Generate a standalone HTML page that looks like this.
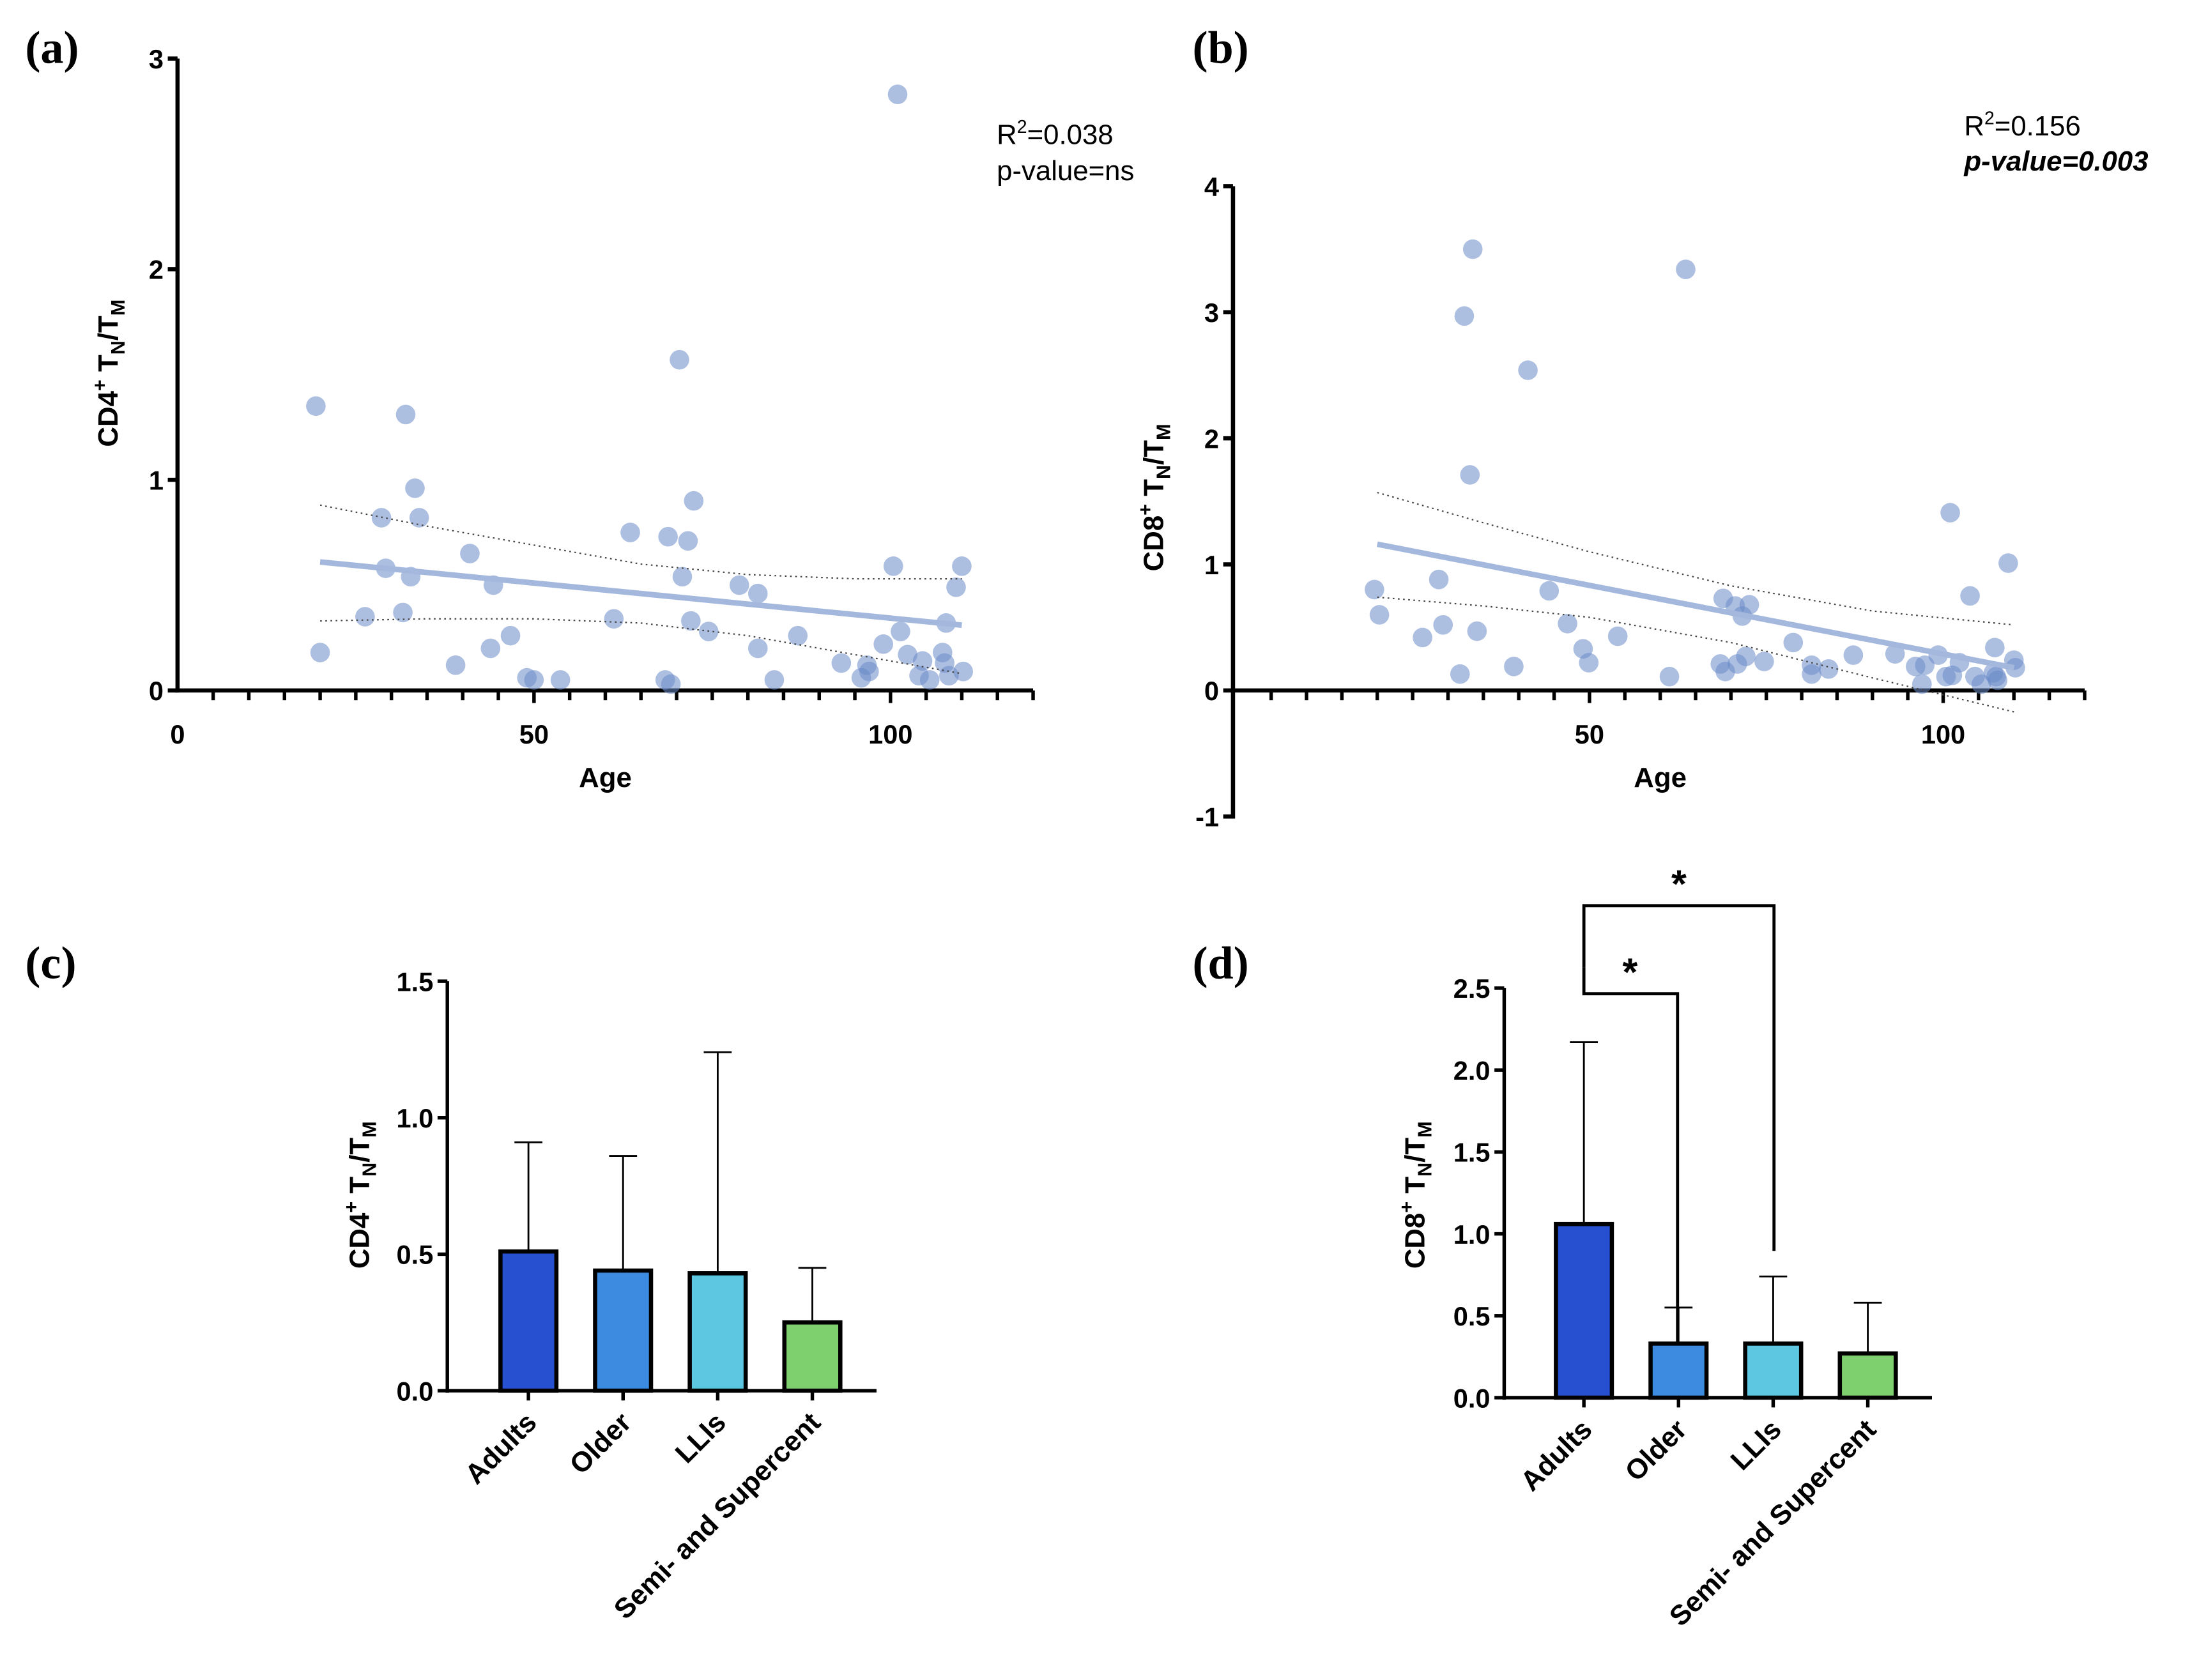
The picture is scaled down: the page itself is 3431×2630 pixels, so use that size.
<!DOCTYPE html>
<html><head><meta charset="utf-8"><style>
html,body{margin:0;padding:0;background:#fff}
svg{display:block}
text{font-family:"Liberation Sans",sans-serif}
.tk{font-weight:bold;font-size:19px}
.ttl{font-weight:bold;font-size:20px}
.pl{font-family:"Liberation Serif",serif;font-weight:bold;font-size:33px}
</style></head><body>
<svg id="fig" width="3431" height="2630" viewBox="0 0 1568 1202" preserveAspectRatio="none" xmlns="http://www.w3.org/2000/svg">
<text class="pl" x="18" y="45">(a)</text>
<text class="pl" x="853" y="45">(b)</text>
<text class="pl" x="18" y="700">(c)</text>
<text class="pl" x="853" y="700">(d)</text>
<text x="713" y="103" font-size="20">R<tspan dy="-8" font-size="13">2</tspan><tspan dy="8">=0.038</tspan></text>
<text x="713" y="129" font-size="20">p-value=ns</text>
<text x="1405" y="97" font-size="20">R<tspan dy="-8" font-size="13">2</tspan><tspan dy="8">=0.156</tspan></text>
<text x="1405" y="122" font-size="20" font-weight="bold" font-style="italic">p-value=0.003</text>
<g id="pa"></g><g id="pb"></g><g id="pc"></g><g id="pd"></g>
</svg>
<script>
const agesA=[19.4,20,26.3,28.6,29.2,31.6,32,32.7,33.3,33.9,39,41,43.9,44.3,46.7,49,50,53.7,61.2,63.5,68.4,68.8,69.2,70.4,70.8,71.6,72,72.4,74.5,78.8,81.4,81.4,83.7,87,93.1,95.9,96.7,97,99,100.4,101,101.4,102.4,104,104.5,105.5,107.3,107.6,107.8,108.2,109.2,110,110.2];
const valsA=[1.35,0.18,0.35,0.82,0.58,0.37,1.31,0.54,0.96,0.82,0.12,0.65,0.20,0.50,0.26,0.06,0.05,0.05,0.34,0.75,0.05,0.73,0.03,1.57,0.54,0.71,0.33,0.90,0.28,0.50,0.46,0.20,0.05,0.26,0.13,0.06,0.12,0.09,0.22,0.59,2.83,0.28,0.17,0.07,0.14,0.05,0.18,0.13,0.32,0.07,0.49,0.59,0.09];
const fitA=[[20,0.61],[110,0.31]];
const ciUpA=[[20,0.88],[35,0.78],[50,0.69],[65,0.6],[80,0.55],[95,0.53],[110,0.53]];
const ciLoA=[[20,0.33],[35,0.34],[50,0.34],[65,0.32],[80,0.26],[95,0.17],[110,0.08]];
const agesB=[19.6,20.3,26.4,28.7,29.3,31.7,32.3,33.1,33.5,34.1,39.3,41.3,44.3,46.9,49.1,49.9,54,61.3,63.6,68.5,68.9,69.2,70.6,70.9,71.6,72.1,72.6,74.7,78.8,81.4,81.4,83.8,87.3,93.2,96.1,97,97.4,99.3,100.4,101,101.3,102.3,103.8,104.5,105.4,107.1,107.3,107.5,107.7,109.2,110,110.2];
const valsB=[0.80,0.60,0.42,0.88,0.52,0.13,2.97,1.71,3.50,0.47,0.19,2.54,0.79,0.53,0.33,0.22,0.43,0.11,3.34,0.21,0.73,0.15,0.67,0.21,0.59,0.27,0.68,0.23,0.38,0.20,0.13,0.17,0.28,0.29,0.19,0.05,0.20,0.28,0.11,1.41,0.12,0.22,0.75,0.11,0.05,0.14,0.34,0.11,0.08,1.01,0.24,0.18];
const fitB=[[20,1.16],[110,0.18]];
const ciUpB=[[20,1.57],[35,1.33],[50,1.1],[70,0.83],[90,0.63],[110,0.52]];
const ciLoB=[[20,0.74],[35,0.67],[50,0.58],[70,0.38],[90,0.1],[110,-0.17]];
const groups=["Adults","Older","LLIs","Semi- and Supercent"];
const colors=["#2650d0","#3d8be0","#5dc6e0","#7ecf6e"];
const meansC=[0.51,0.44,0.43,0.25];
const errC=[0.91,0.86,1.24,0.45];
const meansD=[1.06,0.33,0.33,0.27];
const errD=[2.17,0.55,0.74,0.58];
const ticksC=["0.0","0.5","1.0","1.5"];
const ticksD=["0.0","0.5","1.0","1.5","2.0","2.5"];

const NS="http://www.w3.org/2000/svg";
function mk(p,t,a){const e=document.createElementNS(NS,t);for(const k in a)e.setAttribute(k,a[k]);p.appendChild(e);return e;}
function ylab(g,x,y,prefix){
  const t=mk(g,"text",{x:0,y:0,class:"ttl","text-anchor":"middle",transform:`translate(${x},${y}) rotate(-90)`});
  
  
  t.innerHTML=prefix+'<tspan dy="-8" font-size="14">+</tspan><tspan dy="8"> T</tspan><tspan dy="5" font-size="14">N</tspan><tspan dy="-5">/T</tspan><tspan dy="5" font-size="14">M</tspan>';
}
function scatter(id,ages,vals,fit,up,lo,ax,prefix){
  const g=document.getElementById(id);
  const X=a=>ax.x0+(a-0)*ax.px, Y=v=>ax.y0-v*ax.py;
  let e=mk(g,"line",{x1:ax.ax,y1:Y(ax.ymax),x2:ax.ax,y2:Y(ax.ymin)+1.5,stroke:"#000","stroke-width":3});
  
  e=mk(g,"line",{x1:ax.ax-1.5,y1:ax.y0,x2:X(120),y2:ax.y0,stroke:"#000","stroke-width":3});
  
  for(let v=ax.ymin;v<=ax.ymax;v++){
    mk(g,"line",{x1:ax.ax-7,y1:Y(v),x2:ax.ax,y2:Y(v),stroke:"#000","stroke-width":3});
    const t=mk(g,"text",{x:ax.ax-10,y:Y(v)+7,class:"tk","text-anchor":"end"});t.textContent=v;
    
  }
  for(let a=ax.xstart;a<=120;a+=5){
    if(a===0)continue;
    mk(g,"line",{x1:X(a),y1:ax.y0,x2:X(a),y2:ax.y0+(a%50===0?9:7),stroke:"#000","stroke-width":2.5});
  }
  ax.xt.forEach(a=>{const t=mk(g,"text",{x:X(a),y:ax.y0+38,class:"tk","text-anchor":"middle"});t.textContent=a;
    });
  const xl=mk(g,"text",{x:X(60),y:ax.y0+69,class:"ttl","text-anchor":"middle"});xl.textContent="Age";
  
  ylab(g,ax.ylx,ax.yly,prefix);
  ages.forEach((a,i)=>{const c=mk(g,"circle",{cx:X(a),cy:Y(vals[i]),r:7,fill:"#6a8bc8","fill-opacity":0.55});
    });
  const fl=mk(g,"line",{x1:X(fit[0][0]),y1:Y(fit[0][1]),x2:X(fit[1][0]),y2:Y(fit[1][1]),stroke:"#a4b8de","stroke-width":4});
  
  [up,lo].forEach((c,k)=>{const p=mk(g,"polyline",{points:c.map(q=>X(q[0])+","+Y(q[1])).join(" "),fill:"none",stroke:"#444","stroke-width":1,"stroke-dasharray":"1.2 2.5"});
    });
}
scatter("pa",agesA,valsA,fitA,ciUpA,ciLoA,{x0:127,px:5.1,y0:494,py:150.7,ax:127,ymin:0,ymax:3,xstart:0,xt:[0,50,100],ylx:84,yly:267},"CD4");
scatter("pb",agesB,valsB,fitB,ciUpB,ciLoB,{x0:884,px:5.06,y0:494,py:90.2,ax:882,ymin:-1,ymax:4,xstart:5,xt:[50,100],ylx:832,yly:356},"CD8");

function bars(id,means,errs,ticks,ax,prefix){
  const g=document.getElementById(id);
  const Y=v=>ax.y0-v*ax.py;
  let e=mk(g,"line",{x1:ax.ax,y1:Y(parseFloat(ticks[ticks.length-1])),x2:ax.ax,y2:ax.y0+1.5,stroke:"#000","stroke-width":2.5});
  
  e=mk(g,"line",{x1:ax.ax,y1:ax.y0,x2:ax.xe,y2:ax.y0,stroke:"#000","stroke-width":2.5});
  
  ticks.forEach(tv=>{const v=parseFloat(tv);
    mk(g,"line",{x1:ax.ax-7,y1:Y(v),x2:ax.ax,y2:Y(v),stroke:"#000","stroke-width":2.5});
    const t=mk(g,"text",{x:ax.ax-10,y:Y(v)+7,class:"tk","text-anchor":"end"});t.textContent=tv;
    });
  ylab(g,ax.ylx,ax.yly,prefix);
  means.forEach((m,i)=>{
    const cx=ax.c0+i*ax.dx;
    mk(g,"line",{x1:cx,y1:ax.y0,x2:cx,y2:ax.y0+7,stroke:"#000","stroke-width":2.5});
    const el=mk(g,"line",{x1:cx,y1:Y(m),x2:cx,y2:Y(errs[i]),stroke:"#000","stroke-width":1.3});
    
    mk(g,"line",{x1:cx-10,y1:Y(errs[i]),x2:cx+10,y2:Y(errs[i]),stroke:"#000","stroke-width":1.3});
    const r=mk(g,"rect",{x:cx-20,y:Y(m),width:40,height:m*ax.py,fill:colors[i],stroke:"#000","stroke-width":3});
    
    const t=mk(g,"text",{x:0,y:0,class:"ttl","text-anchor":"end",transform:`translate(${cx+7},${ax.y0+24}) rotate(-45)`});
    t.textContent=groups[i];
    
  });
  return Y;
}
bars("pc",meansC,errC,ticksC,{ax:320,y0:995,py:195.3,xe:627,c0:378,dx:67.7,ylx:264,yly:855},"CD4");
bars("pd",meansD,errD,ticksD,{ax:1076,y0:1000,py:117.2,xe:1382,c0:1133,dx:67.7,ylx:1019,yly:855},"CD8");
(function(){
  const g=document.getElementById("pd");
  const p1=mk(g,"polyline",{points:"1133,692 1133,711 1200,711 1200,961",fill:"none",stroke:"#000","stroke-width":2.2});
  
  const p2=mk(g,"polyline",{points:"1133,692 1133,648 1269,648 1269,895",fill:"none",stroke:"#000","stroke-width":2.2});
  
  const s1=mk(g,"text",{x:1166,y:705,"font-size":28,"font-weight":"bold","text-anchor":"middle"});s1.textContent="*";
  
  const s2=mk(g,"text",{x:1201,y:642,"font-size":28,"font-weight":"bold","text-anchor":"middle"});s2.textContent="*";
  
})();
</script>
</body></html>
